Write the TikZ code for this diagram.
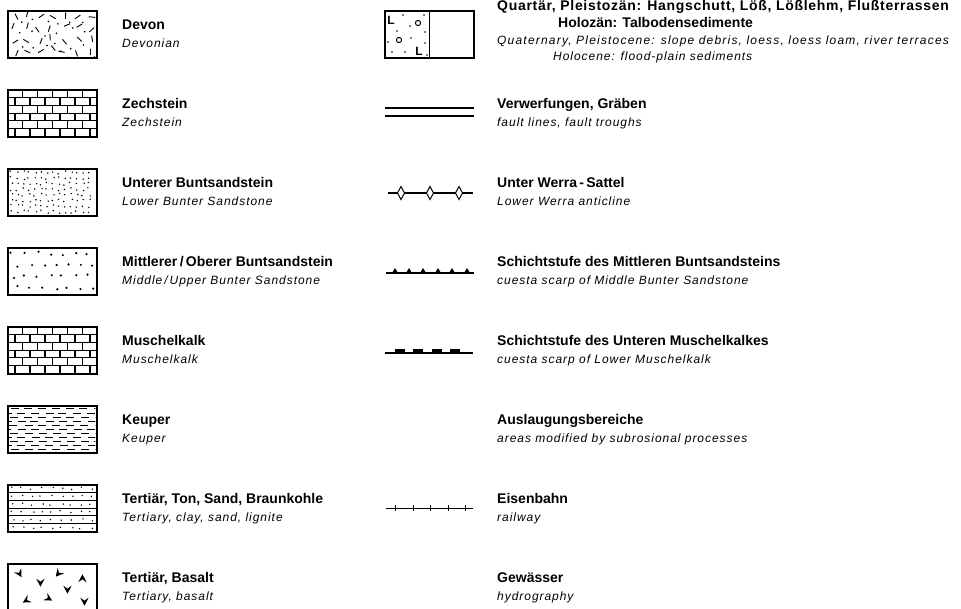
\documentclass[tikz,border=0pt]{standalone}
\usepackage{fontspec}
\setmainfont{Liberation Sans}
\newfontfamily\trackfont[LetterSpace=8]{Liberation Sans}
\newfontfamily\widetrackfont[LetterSpace=10]{Liberation Sans}
\newfontfamily\widebold[LetterSpace=5]{Liberation Sans}
\tikzset{
  swatch/.style={draw, line width=1.1pt, minimum width=89pt, minimum height=47pt, inner sep=0pt},
  de/.style={anchor=base west, inner sep=0pt, font=\bfseries\fontsize{14}{16}\selectfont},
  en/.style={anchor=base west, inner sep=0pt, font=\trackfont\itshape\fontsize{12}{14}\selectfont},
  pat/.style={line width=0.9pt},
  sym/.style={line width=1.1pt},
  lmark/.style={inner sep=0pt, font=\bfseries\fontsize{12}{12}\selectfont},
}
\begin{document}
\begin{tikzpicture}[x=1pt,y=-1pt]
  \useasboundingbox (0,0) rectangle (961,608);
  % left column
  \node[swatch] (devon) at (52.5,34.5) {};
  \node[swatch] (zech) at (52.5,113.5) {};
  \node[swatch] (ubunt) at (52.5,192.5) {};
  \node[swatch] (mbunt) at (52.5,271.5) {};
  \node[swatch] (muka) at (52.5,350.5) {};
  \node[swatch] (keuper) at (52.5,429.5) {};
  \node[swatch] (tton) at (52.5,508.5) {};
  \node[swatch] (basalt) at (52.5,587.5) {};
  \begin{scope}[shift={(devon.north west)}]
    \clip (1,1) rectangle (88,46);
    \pgfmathsetseed{11}
    \foreach \c in {0,...,6}
      \foreach \r in {0,...,3} {
        \pgfmathsetmacro\px{7+12.5*\c+3*rand}
        \pgfmathsetmacro\py{6+11.5*\r+3*rand}
        \pgfmathsetmacro\pa{180*rnd}
        \draw[pat] (\px,\py) ++(\pa:-3.2) -- ++(\pa:6.4);
        \fill ({\px+6+2*rand},{\py+5+2*rand}) circle (0.9);
      }
  \end{scope}
  \foreach \sw in {zech,muka} {
    \begin{scope}[shift={(\sw.north west)}]
      \clip (0,0) rectangle (89,47);
      \foreach \r in {1,...,5}
        \draw[pat] (0,\r*7.833) -- (89,\r*7.833);
      \foreach \r in {0,...,5} {
        \pgfmathsetmacro\off{mod(\r,2)==0 ? 15 : 7.5}
        \foreach \k in {0,...,5}
          \draw[line width=1.2pt] (\off+15*\k,\r*7.833) -- ++(0,7.833);
      }
    \end{scope}
  }
  \begin{scope}[shift={(ubunt.north west)}]
    \pgfmathsetseed{5}
    \foreach \c in {0,...,13}
      \foreach \r in {0,...,7}
        \fill ({4+5.95*\c+1.5*rand},{4+5.6*\r+1.5*rand}) circle (0.8);
  \end{scope}
  \begin{scope}[shift={(mbunt.north west)}]
    \pgfmathsetseed{23}
    \foreach \c in {0,...,6}
      \foreach \r in {0,...,3}
        \fill ({5+12.5*\c+mod(\r,2)*6+2*rand},{6+11.5*\r+2*rand}) circle (1.2);
  \end{scope}
  \begin{scope}[shift={(keuper.north west)}]
    \clip (1,1) rectangle (88,46);
    \pgfmathsetseed{3}
    \foreach \r in {0,...,10}
      \foreach \k in {-1,...,6}
        \draw[line width=1pt] ({3+14*\k+mod(\r,2)*7+rand},{3.5+4.1*\r}) -- ++(8,0);
  \end{scope}
  \begin{scope}[shift={(tton.north west)}]
    \foreach \r in {1,...,5}
      \draw[pat] (0,\r*7.833) -- (89,\r*7.833);
    \pgfmathsetseed{17}
    \foreach \r in {0,...,5}
      \foreach \k in {0,...,8}
        \fill ({5+9.8*\k+2*rand},{3.9+7.833*\r+1.2*rand}) circle (0.8);
  \end{scope}
  \begin{scope}[shift={(basalt.north west)}]
    \foreach \bx/\by/\ba in {12/10/30, 33/19/0, 51/10/-40, 75/15/180, 19/37/-60, 41/35/60, 60/26/0, 77/38/0}
      \fill[shift={(\bx,\by)}, rotate=\ba] (-4.2,-3.8) -- (0,4.2) -- (4.2,-3.8) -- (0,-0.8) -- cycle;
  \end{scope}
  \node[de] (devonde) at (122,29) {Devon};
  \node[en] (devonen) at (122,47) {Devonian};
  \node[de] (zechde) at (122,108) {Zechstein};
  \node[en] (zechen) at (122,126) {Zechstein};
  \node[de] (ubuntde) at (122,187) {Unterer Buntsandstein};
  \node[en] (ubunten) at (122,205) {Lower Bunter Sandstone};
  \node[de] (mbuntde) at (122,266) {Mittlerer\,/\,Oberer Buntsandstein};
  \node[en] (mbunten) at (122,284) {Middle\,/\,Upper Bunter Sandstone};
  \node[de] (mukade) at (122,345) {Muschelkalk};
  \node[en] (mukaen) at (122,363) {Muschelkalk};
  \node[de] (keuperde) at (122,424) {Keuper};
  \node[en] (keuperen) at (122,442) {Keuper};
  \node[de] (ttonde) at (122,503) {Tertiär, Ton, Sand, Braunkohle};
  \node[en] (ttonen) at (122,521) {Tertiary, clay, sand, lignite};
  \node[de] (basaltde) at (122,582) {Tertiär, Basalt};
  \node[en] (basalten) at (122,600) {Tertiary, basalt};
  % right column
  \node[swatch] (quart) at (429.5,34.5) {};
  \draw[line width=1.1pt] (quart.north) -- (quart.south);
  \node[lmark] (ql1) at (391,20) {L};
  \node[lmark] (ql2) at (419,51) {L};
  \draw[line width=1pt] (418,23) circle (2.6);
  \draw[line width=1pt] (399,40) circle (2.6);
  \foreach \qx/\qy in {403/15, 424/15, 410/26, 397/31, 388/42, 411/38, 425/32, 425/43, 392/52, 405/52, 427/55}
    \fill (\qx,\qy) circle (0.9);
  \node[de, font=\widebold\bfseries\fontsize{14}{16}\selectfont] (quartde1) at (497,10) {Quartär, Pleistozän: Hangschutt, Löß, Lößlehm, Flußterrassen};
  \node[de] (quartde2) at (558,27) {Holozän: Talbodensedimente};
  \node[en, font=\widetrackfont\itshape\fontsize{12}{14}\selectfont] (quarten1) at (497,44) {Quaternary, Pleistocene: slope debris, loess, loess loam, river terraces};
  \node[en] (quarten2) at (553,60) {Holocene: flood-plain sediments};

  \coordinate (fw1) at (385,108);
  \coordinate (fe1) at (474,108);
  \coordinate (fw2) at (385,116);
  \coordinate (fe2) at (474,116);
  \draw[sym] (fw1) -- (fe1);
  \draw[sym] (fw2) -- (fe2);
  \node[de] (faultde) at (497,108) {Verwerfungen, Gräben};
  \node[en] (faulten) at (497,126) {fault lines, fault troughs};

  \coordinate (ww) at (388,193);
  \coordinate (we) at (473,193);
  \draw[sym] (ww) -- (we);
  \foreach \dx in {401,430,459}
    \draw[line width=1pt, fill=white] (\dx-3.5,193) -- (\dx,186.5) -- (\dx+3.5,193) -- (\dx,199.5) -- cycle;
  \node[de] (werrade) at (497,187) {Unter Werra\,-\,Sattel};
  \node[en] (werraen) at (497,205) {Lower Werra anticline};

  \coordinate (mw) at (386,273);
  \coordinate (me) at (474,273);
  \draw[sym] (mw) -- (me);
  \foreach \tx in {395,409,423,438,452,467}
    \fill (\tx-3,273) -- (\tx,268) -- (\tx+3,273) -- cycle;
  \node[de] (mstufede) at (497,266) {Schichtstufe des Mittleren Buntsandsteins};
  \node[en] (mstufeen) at (497,284) {cuesta scarp of Middle Bunter Sandstone};

  \coordinate (uw) at (385,353);
  \coordinate (ue) at (473,353);
  \draw[sym] (uw) -- (ue);
  \foreach \bx in {395,413,432,450}
    \fill (\bx,349) rectangle (\bx+10,353.5);
  \node[de] (ustufede) at (497,345) {Schichtstufe des Unteren Muschelkalkes};
  \node[en] (ustufeen) at (497,363) {cuesta scarp of Lower Muschelkalk};

  \node[de] (auslde) at (497,424) {Auslaugungsbereiche};
  \node[en] (auslen) at (497,442) {areas modified by subrosional processes};

  \coordinate (rw) at (386,508);
  \coordinate (re) at (473,508);
  \draw[line width=0.9pt] (rw) -- (re);
  \foreach \rx in {395,413,430,448,465}
    \draw[line width=0.9pt] (\rx,505) -- (\rx,511);
  \node[de] (railde) at (497,503) {Eisenbahn};
  \node[en] (railen) at (497,521) {railway};

  \node[de] (hydrode) at (497,582) {Gewässer};
  \node[en] (hydroen) at (497,600) {hydrography};
\end{tikzpicture}
\end{document}
